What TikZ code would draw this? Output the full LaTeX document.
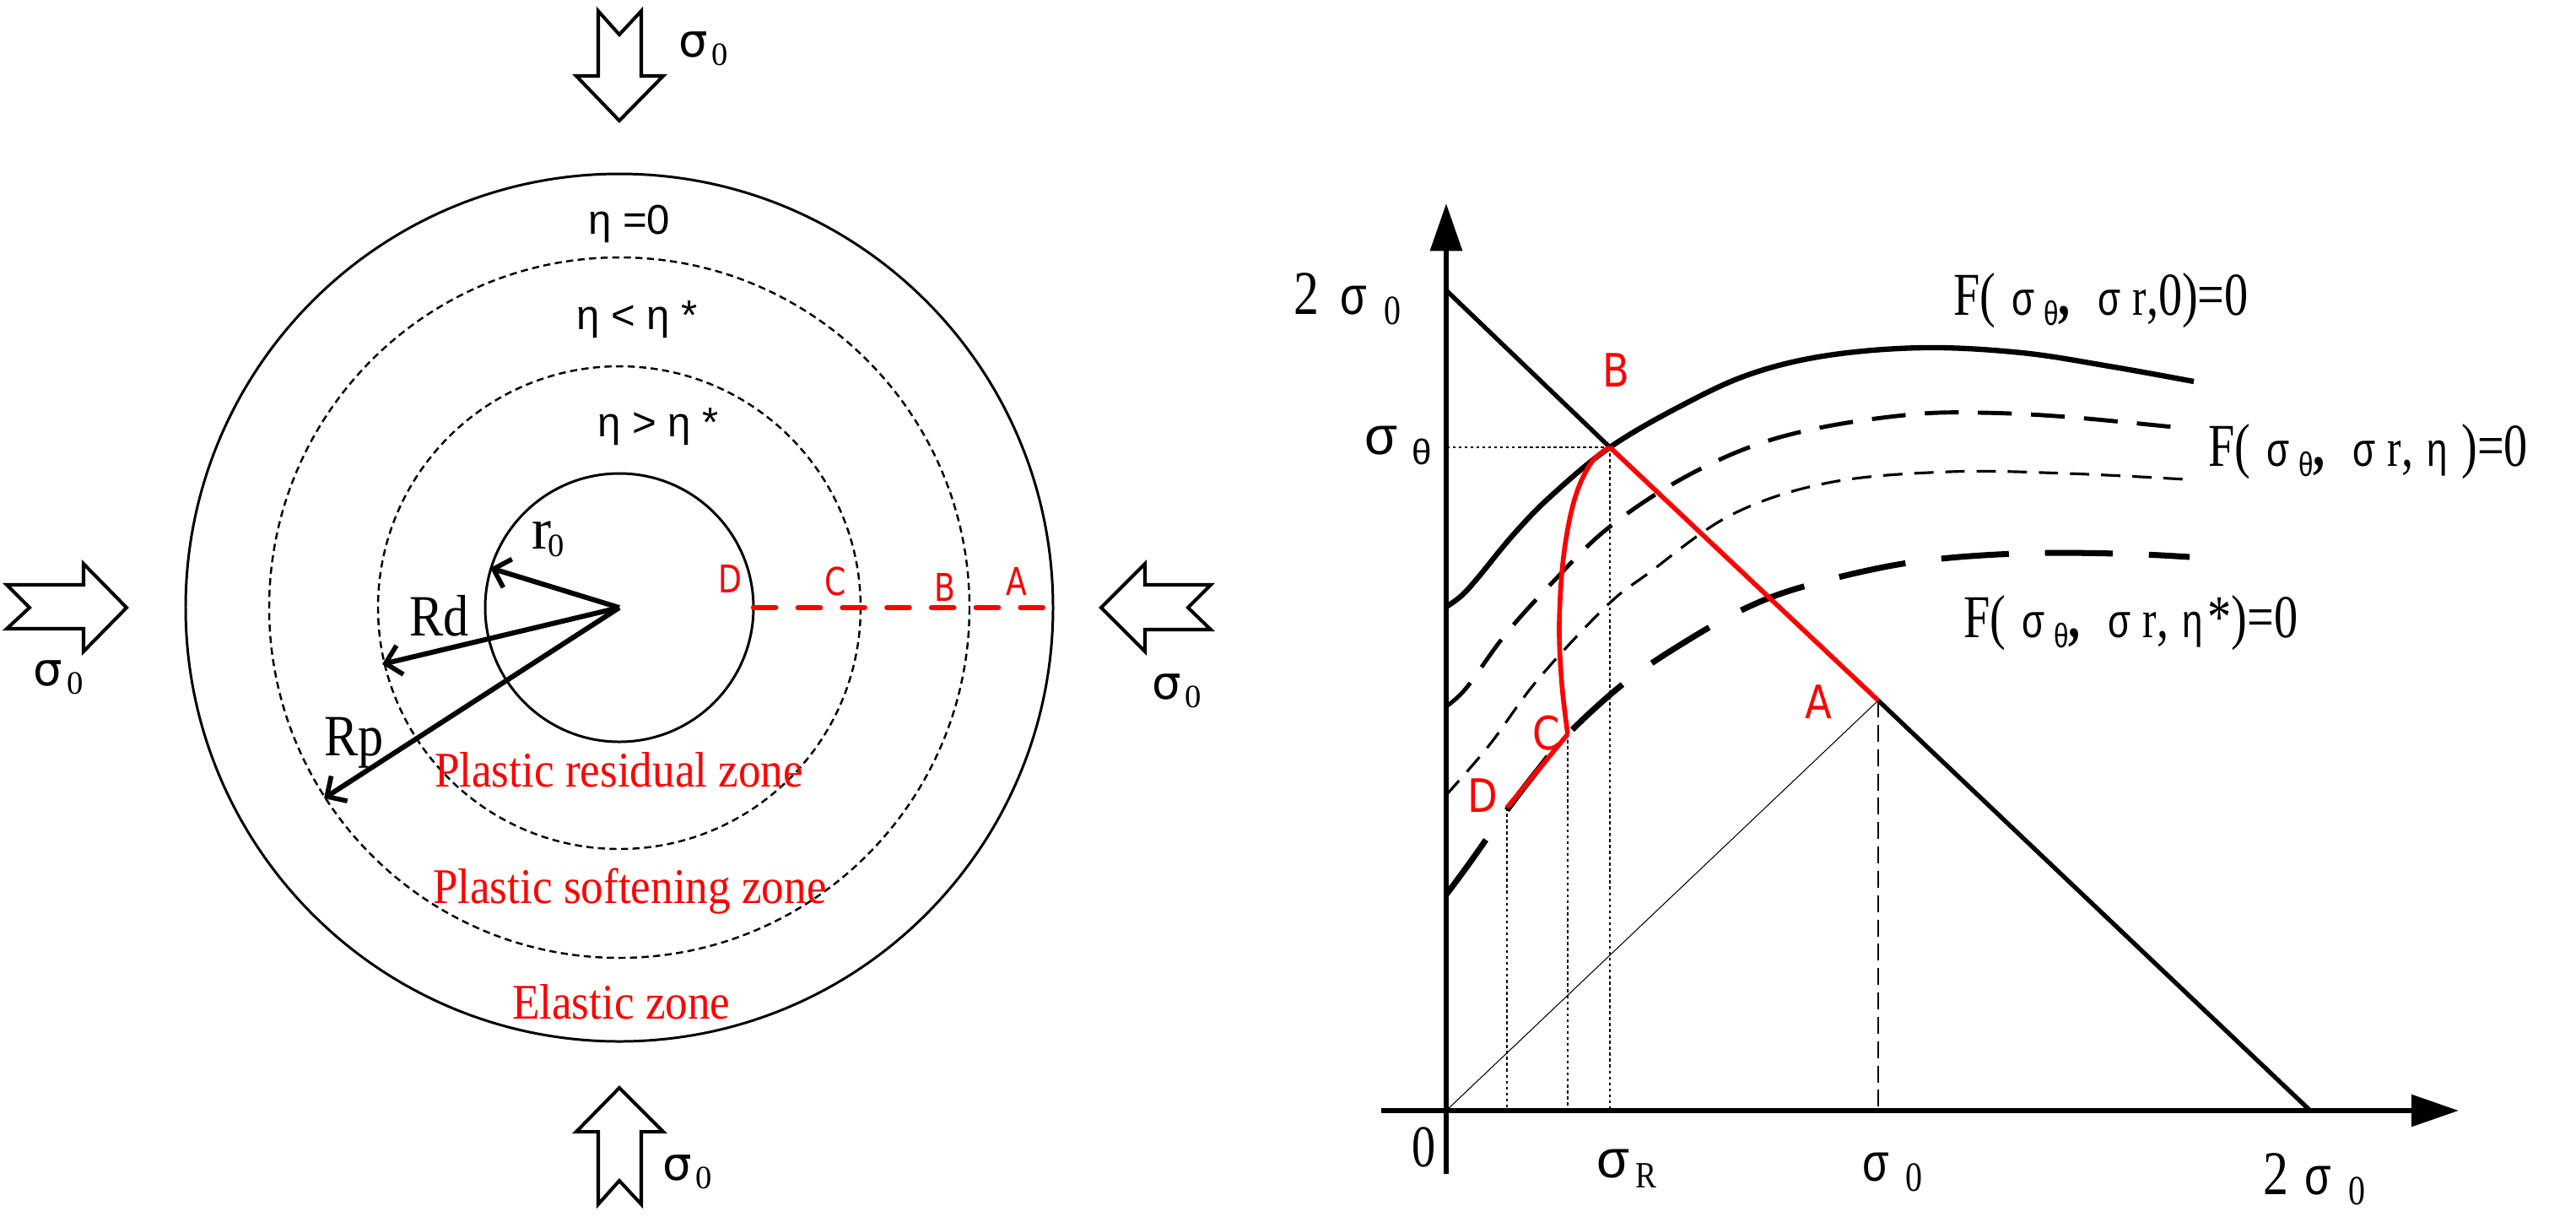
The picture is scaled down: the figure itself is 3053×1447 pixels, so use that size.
\documentclass[tikz,border=0pt]{standalone}
\usepackage{fontspec}
\usepackage{graphicx}
\setmainfont{Liberation Serif}
\newfontfamily\sansf{Liberation Sans}
\newfontfamily\dvs{DejaVu Sans}
\usetikzlibrary{arrows.meta}
\definecolor{pred}{RGB}{255,0,0}
\newcommand\fs[1]{\fontsize{#1}{#1}\selectfont}
% left panel sigma_0
\newcommand\lsz{{\dvs\fs{15.5pt}σ}\hspace{1.5pt}\raisebox{-3pt}{\fs{11pt}0}}
% right panel pieces
\newcommand\rsg{{\sansf\fs{16pt}σ}}
\newcommand\rth{\raisebox{-3.5pt}{{\sansf\fs{11.5pt}θ}}}
\newcommand\Flab[1]{\scalebox{0.78}[1]{\fs{20.5pt}F(\hspace{7pt}\rsg\hspace{4pt}\rth\textbf{,}\hspace{12pt}\rsg\hspace{5pt}{\fs{18pt}r},#1)=0}}
\newcommand\bigsz[1]{\scalebox{0.81}[1]{\fs{21pt}#1{\sansf\fs{18pt}σ}\hspace{7pt}\raisebox{-3.5pt}{\fs{14pt}0}}}
\begin{document}
\begin{tikzpicture}[x=0.01cm,y=-0.01cm,
  lbl/.style={inner sep=0pt,outer sep=0pt,anchor=base west},
  solidcirc/.style={line width=0.85pt},
  dashcirc/.style={line width=0.7pt,dash pattern=on 2.4pt off 1.5pt},
  radarrow/.style={line width=1.7pt,-{Straight Barb[length=5pt,width=10pt,line width=1.6pt]}},
  reddash/.style={pred,line width=1.8pt,line cap=round,dash pattern=on 7.5pt off 7.5pt},
  blockarr/.style={draw=black,fill=white,line width=1.15pt,line join=miter},
  axisline/.style={line width=1.85pt,-{Triangle[length=16pt,width=10.5pt]}},
  blkline/.style={line width=1.5pt},
  redline/.style={pred,line width=1.6pt},
  curveA/.style={line width=1.8pt},
  curveB/.style={line width=1.4pt,dash pattern=on 11.4pt off 6.5pt},
  curveC/.style={line width=0.9pt,dash pattern=on 6.5pt off 4pt},
  curveD/.style={line width=2pt,dash pattern=on 22.8pt off 12.2pt},
  hair/.style={line width=0.3pt},
  vdash/.style={line width=0.6pt,dash pattern=on 5.7pt off 2.5pt},
  dotl/.style={line width=0.7pt,dash pattern=on 1pt off 1pt},
  redlet/.style={lbl,text=pred},
  zonetxt/.style={lbl,text=pred}
]
\useasboundingbox (0,0) rectangle (3053,1447);
\fill[white] (0,0) rectangle (3053,1447);

% ---------------- left panel ----------------
\coordinate (Ctr) at (734,720);
\draw[solidcirc] (Ctr) circle[radius=514];
\draw[dashcirc] (Ctr) circle[radius=415];
\draw[dashcirc] (Ctr) circle[radius=286];
\draw[solidcirc] (Ctr) circle[radius=159];

\coordinate (r0tip) at (581,673);
\coordinate (Rdtip) at (453,787);
\coordinate (Rptip) at (384,946);
\draw[radarrow] (Ctr) -- (r0tip);
\draw[radarrow] (Ctr) -- (Rdtip);
\draw[radarrow] (Ctr) -- (Rptip);

\coordinate (Dl) at (893,720);
\coordinate (Al) at (1248,720);
\draw[reddash] (Dl) -- (Al);

% block arrows
\draw[blockarr] (709,13) -- (734,41) -- (760,13) -- (760,90) -- (786,90) -- (734,143) -- (683,90) -- (709,90) -- cycle;
\draw[blockarr] (8,693) -- (99,693) -- (99,668) -- (150,720) -- (99,772) -- (99,745) -- (8,745) -- (35,720) -- cycle;
\draw[blockarr] (1435,693) -- (1357,693) -- (1357,668) -- (1305,720) -- (1357,772) -- (1357,746) -- (1435,746) -- (1408,720) -- cycle;
\draw[blockarr] (734,1289) -- (786,1341) -- (760,1341) -- (760,1427) -- (734,1399) -- (709,1427) -- (709,1341) -- (683,1341) -- cycle;

\node[lbl] (sTop) at (804,67) {\lsz};
\node[lbl] (sLeft) at (40,812) {\lsz};
\node[lbl] (sRight) at (1365,828) {\lsz};
\node[lbl] (sBot) at (785,1398) {\lsz};

\node[lbl] (eta0) at (697,277) {\sansf\fs{14pt}η =0};
\node[lbl] (etaLt) at (683,390) {\sansf\fs{14pt}η < η *};
\node[lbl] (etaGt) at (708,517) {\sansf\fs{14pt}η > η *};

\node[lbl] (r0lab) at (630,650) {\fs{19.7pt}r\hspace{-1pt}\raisebox{-2.8pt}{\fs{11pt}0}};
\node[lbl] (Rdlab) at (485,753) {\scalebox{0.87}[1]{\fs{19.7pt}Rd}};
\node[lbl] (Rplab) at (384,895) {\scalebox{0.87}[1]{\fs{19.7pt}Rp}};

\node[redlet] (lD) at (851,702) {\scalebox{0.8}[1]{\dvs\fs{12.9pt}D}};
\node[redlet] (lC) at (977,705) {\scalebox{0.8}[1]{\dvs\fs{12.9pt}C}};
\node[redlet] (lB) at (1107,712) {\scalebox{0.8}[1]{\dvs\fs{12.9pt}B}};
\node[redlet] (lA) at (1192,705) {\scalebox{0.8}[1]{\dvs\fs{12.9pt}A}};

\node[zonetxt] (zres) at (515,932) {\scalebox{0.9}[1]{\fs{16.8pt}Plastic residual zone}};
\node[zonetxt] (zsoft) at (513,1070) {\scalebox{0.9}[1]{\fs{16.8pt}Plastic softening zone}};
\node[zonetxt] (zel) at (607,1207) {\scalebox{0.9}[1]{\fs{16.8pt}Elastic zone}};

% ---------------- right panel ----------------
\coordinate (O) at (1714,1316);
\coordinate (Ytip) at (1714,241);
\coordinate (Ybot) at (1714,1391);
\coordinate (Xtip) at (2914,1316);
\coordinate (Xleft) at (1637,1316);
\coordinate (Y2) at (1714,344);
\coordinate (X2) at (2738,1316);
\coordinate (B) at (1908,530);
\coordinate (A) at (2226,830);
\coordinate (C) at (1858,870);
\coordinate (D) at (1786,957);

% yield curves
\draw[curveA] plot[smooth,tension=0.6] coordinates {(1714,719) (1732,706) (1752,684) (1794,633) (1839,587) (1908,530) (1994,480) (2075,443) (2167,421) (2281,412) (2396,418) (2500,434) (2600,452)};
\draw[curveB] plot[smooth,tension=0.6] coordinates {(1714,837) (1738,815) (1784,752) (1840,690) (1903,628) (1985,572) (2073,530) (2161,506) (2267,491) (2347,489) (2450,494) (2595,508)};
\draw[curveC] plot[smooth,tension=0.6] coordinates {(1714,942) (1765,883) (1822,806) (1903,719) (1954,679) (2052,610) (2167,572) (2310,559) (2450,561) (2590,568)};
\draw[curveD] plot[smooth,tension=0.6] coordinates {(1714,1060) (1740,1025) (1786,960) (1822,913) (1858,870) (1923,811) (1990,765) (2066,722) (2141,694) (2261,667) (2388,656) (2511,656) (2595,660)};

% guide lines
\draw[hair] (O) -- (A);
\draw[vdash] (A) -- (A |- O);
\draw[dotl] (B) -- (B -| O);
\draw[dotl] (B) -- (B |- O);
\draw[dotl] (C) -- (C |- O);
\draw[dotl] (D) -- (D |- O);

% unloading line
\draw[blkline] (Y2) -- (B);
\draw[blkline] (A) -- (X2);

% red path
\draw[redline] (B) -- (A);
\draw[redline] plot[smooth,tension=0.6] coordinates {(1908,530) (1886,548) (1866,592) (1853,660) (1848,740) (1851,810) (1858,870)};
\draw[redline] (C) -- (D);

% axes
\draw[axisline] (Ybot) -- (Ytip);
\draw[axisline] (Xleft) -- (Xtip);

% labels
\node[lbl] (y2s) at (1533,372) {\bigsz{2\hspace{9pt}}};
\node[lbl] (sth) at (1617,538) {{\sansf\fs{18pt}σ}\hspace{5pt}\raisebox{-3.5pt}{{\sansf\fs{12pt}θ}}};
\node[lbl] (zero) at (1673,1382) {\scalebox{0.8}[1]{\fs{20pt}0}};
\node[lbl] (sR) at (1892,1395) {{\sansf\fs{18pt}σ}\hspace{2pt}\raisebox{-3.5pt}{\scalebox{0.85}[1]{\fs{12.5pt}R}}};
\node[lbl] (s0) at (2207,1399) {\bigsz{}};
\node[lbl] (x2s) at (2682,1415) {\bigsz{2\hspace{7pt}}};

\node[lbl] (F1) at (2315,373) {\Flab{0}};
\node[lbl] (F2) at (2617,552) {\Flab{\hspace{6pt}{\sansf\fs{16pt}η}\hspace{6pt}}};
\node[lbl] (F3) at (2327,755) {\Flab{\hspace{6pt}{\sansf\fs{16pt}η}\hspace{2pt}*}};

\node[redlet] (rB) at (1899,458) {\scalebox{0.85}[1]{\dvs\fs{15.5pt}B}};
\node[redlet] (rA) at (2139,851) {\scalebox{0.85}[1]{\dvs\fs{15.5pt}A}};
\node[redlet] (rC) at (1816,888) {\scalebox{0.85}[1]{\dvs\fs{15.5pt}C}};
\node[redlet] (rD) at (1739,962) {\scalebox{0.85}[1]{\dvs\fs{15.5pt}D}};
\end{tikzpicture}
\end{document}
